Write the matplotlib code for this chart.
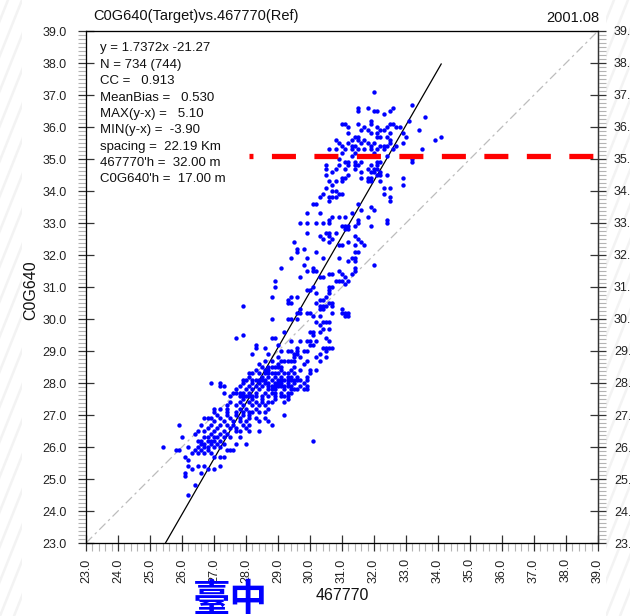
import matplotlib
matplotlib.use('Agg')
import matplotlib.pyplot as plt
from matplotlib.patches import Rectangle
from matplotlib.ticker import MultipleLocator, FormatStrFormatter

plt.rcParams['font.family'] = ['Liberation Sans', 'DejaVu Sans']

# regression and reference level
fit_slope = 1.7372
fit_icpt = -21.27
level_y = 35.1
level_x0 = 28.1

stats_lines = [
    'y = 1.7372x -21.27',
    'N = 734 (744)',
    'CC =   0.913',
    'MeanBias =   0.530',
    'MAX(y-x) =   5.10',
    'MIN(y-x) =  -3.90',
    'spacing =  22.19 Km',
    "467770'h =  32.00 m",
    "C0G640'h =  17.00 m",
]

# pairs of (C0G640 value, [467770 values]) grouped by value band
upper_rows = [
    (37.1, [32.0]),
    (36.7, [33.2]),
    (36.6, [31.5, 31.8, 32.6]),
    (36.5, [31.5, 32.0, 32.1, 32.5]),
    (36.4, [32.3]),
    (36.3, [33.6]),
    (36.2, [31.9, 33.1]),
    (36.1, [31.0, 31.1, 31.5, 31.9, 32.5, 32.6]),
    (36.0, [31.2, 31.7, 32.1, 32.4, 32.7, 32.8]),
    (35.9, [31.6, 31.8, 32.2, 32.3, 33.4]),
    (35.8, [31.2, 31.9, 32.1, 32.5, 32.9]),
    (35.7, [31.4, 31.5, 32.1, 32.2, 32.4, 33.0, 34.1]),
    (35.6, [30.8, 31.3, 31.5, 31.7, 32.5, 33.9]),
    (35.5, [30.9, 31.2, 31.6, 31.8, 32.0, 32.5, 32.9]),
    (35.4, [31.0, 31.3, 31.4, 31.9, 32.2, 32.3, 32.4, 32.7]),
    (35.3, [30.6, 30.8, 31.1, 31.3, 31.5, 31.7, 31.9, 32.1, 32.3, 32.6, 33.5]),
    (35.2, [31.0, 31.4, 32.0]),
    (35.1, [30.6, 31.3, 31.8, 32.4]),
    (35.0, [30.9, 33.2]),
    (34.9, [31.1, 31.2, 31.4, 31.6, 32.1, 32.2, 33.2]),
    (34.8, [30.5, 30.9, 31.2, 31.4, 31.5, 31.9, 32.1]),
    (34.7, [30.5, 30.8, 31.1, 31.4, 31.8, 32.0, 32.1]),
    (34.6, [30.7, 31.6, 31.9, 32.0, 32.2]),
    (34.5, [30.5, 31.2, 32.1, 32.2, 32.4]),
    (34.4, [31.0, 31.1, 31.6, 31.8, 31.9, 32.9]),
    (34.3, [30.6, 30.8, 31.0, 31.8, 31.9, 32.2]),
    (34.2, [30.7, 32.9]),
    (34.1, [30.5, 32.3, 32.5]),
    (34.0, [30.7, 30.8]),
    (33.9, [30.4, 30.9, 31.0, 32.3]),
    (33.8, [30.3, 30.6, 30.7, 30.8, 32.5]),
]

middle_rows = [
    (33.7, [30.6, 32.5]),
    (33.6, [30.1, 30.2, 31.5]),
    (33.5, [31.9]),
    (33.4, [31.6, 32.0]),
    (33.3, [29.9, 30.3, 31.3]),
    (33.2, [30.7, 30.9, 31.1, 31.8]),
    (33.1, [30.6, 31.5, 32.4]),
    (33.0, [29.7, 29.9, 30.2, 30.4, 30.6, 31.5, 32.4]),
    (32.9, [31.0, 31.1, 31.2, 31.4, 31.9]),
    (32.8, [31.1, 31.2]),
    (32.7, [29.9, 30.5, 30.6, 30.8]),
    (32.6, [30.3, 30.6, 31.4]),
    (32.5, [30.4, 30.7, 31.5]),
    (32.4, [29.5, 30.6, 31.2, 31.6]),
    (32.3, [30.9, 31.0, 31.4, 31.7]),
    (32.2, [29.6, 29.8]),
    (32.1, [29.6, 30.2, 31.4, 31.5]),
    (31.9, [29.4, 29.9, 30.4, 30.9, 31.3, 31.4]),
    (31.8, [31.2, 31.4]),
    (31.7, [29.8, 32.0]),
    (31.6, [29.1, 30.1, 31.4]),
    (31.5, [29.9, 30.1, 30.2, 30.9, 31.4]),
    (31.4, [30.6, 30.7, 31.0, 31.3]),
    (31.3, [29.7, 30.3, 30.4, 31.1]),
    (31.2, [28.9, 30.8, 30.9, 31.0, 31.2]),
    (31.1, [31.1]),
    (31.0, [28.9, 30.1, 30.6, 30.7]),
    (30.9, [29.9, 30.0, 30.6]),
    (30.8, [30.2, 30.6]),
    (30.7, [28.8, 29.4, 29.6, 30.5]),
    (30.6, [29.3, 30.3, 30.4]),
    (30.5, [29.3, 29.4, 30.2, 30.6, 30.7]),
    (30.4, [27.9, 30.3, 30.4, 30.5, 30.7]),
    (30.3, [29.7, 30.3, 30.4, 31.0]),
    (30.2, [29.6, 29.7, 29.9, 30.0, 30.7, 31.0, 31.1, 31.2]),
    (30.1, [30.1, 30.3, 31.1, 31.2]),
    (30.0, [28.8, 29.3, 29.4, 29.6]),
    (29.9, [30.2, 30.4, 30.5, 30.6]),
    (29.8, [30.3]),
    (29.7, [30.4, 30.6]),
    (29.6, [29.2, 30.0, 30.1, 30.3]),
    (29.5, [27.9, 30.1]),
    (29.4, [27.7, 28.8, 28.9, 30.5]),
    (29.3, [29.4, 29.7, 29.9, 30.0, 30.2, 30.6]),
    (29.2, [28.3, 29.0, 30.0, 30.1]),
    (29.1, [28.3, 28.6, 29.6, 30.4, 30.5, 30.6, 30.7]),
    (29.0, [29.1, 29.3, 29.4, 29.6, 29.8, 29.9, 30.5]),
]

core_rows = [
    (28.9, [28.2, 28.7, 29.5, 29.6, 30.3]),
    (28.8, [29.0, 29.5, 29.7, 30.2, 30.5]),
    (28.7, [28.6, 28.8, 29.1, 29.2, 29.3, 29.4, 29.5, 29.9, 30.3]),
    (28.6, [28.4, 29.0, 29.8]),
    (28.5, [28.5, 28.7, 28.8, 28.9, 29.0, 29.1, 29.5]),
    (28.4, [28.3, 28.6, 28.7, 29.1, 29.4, 29.7, 30.0, 30.2]),
    (28.3, [28.1, 28.2, 28.4, 28.6, 28.7, 28.8, 28.9, 29.0, 29.2, 29.3, 29.5, 30.0]),
    (28.2, [28.1, 28.5, 28.7, 28.9, 29.1, 29.3, 29.4, 29.6, 29.9]),
    (28.1, [27.9, 28.0, 28.2, 28.3, 28.4, 28.5, 28.6, 28.8, 29.0, 29.1, 29.2,
            29.3, 29.4, 29.5, 29.6, 29.7, 29.9]),
    (28.0, [26.9, 27.2, 27.9, 28.2, 28.4, 28.6, 28.7, 28.9, 29.0, 29.1, 29.3,
            29.5, 29.8]),
    (27.9, [27.2, 27.3, 27.8, 28.1, 28.3, 28.5, 28.7, 28.8, 28.9, 29.0, 29.1,
            29.2, 29.3, 29.4, 29.7, 29.9]),
    (27.8, [27.7, 28.0, 28.2, 28.4, 28.7, 28.8, 28.9, 29.2, 29.4, 29.5, 29.6,
            29.8, 29.9]),
    (27.7, [27.3, 27.6, 27.7, 27.8, 27.9, 28.1, 28.3, 28.6, 28.8, 28.9, 29.1,
            29.3, 29.4]),
    (27.6, [27.5, 27.8, 27.9, 28.0, 28.1, 28.2, 28.3, 28.5, 28.7, 28.9, 29.1,
            29.2, 29.3]),
    (27.5, [27.9, 28.2, 28.5, 28.9, 29.3]),
    (27.4, [27.5, 27.8, 28.1, 28.3, 28.5, 28.7, 28.8, 29.2]),
    (27.3, [27.4, 27.7, 27.9, 28.2, 28.4, 28.6]),
    (27.2, [27.0, 27.2, 27.4, 27.8, 28.0, 28.3, 28.7]),
    (27.1, [27.0, 27.4, 27.7, 27.9, 28.1, 28.2, 28.4, 28.6]),
    (27.0, [27.1, 27.4, 27.7, 27.9, 28.1, 29.2]),
]

lower_rows = [
    (26.9, [26.7, 26.8, 26.9, 27.2, 27.5, 27.8, 28.1, 28.3, 28.6]),
    (26.8, [27.0, 27.3, 27.6, 27.8, 28.0, 28.4, 28.7]),
    (26.7, [25.9, 26.6, 26.9, 27.2, 27.4, 27.6, 27.9, 28.1, 28.8]),
    (26.6, [26.8, 27.1, 27.5, 27.7, 28.0]),
    (26.5, [26.5, 26.7, 27.0, 27.3, 27.7, 27.8, 28.1, 28.4]),
    (26.4, [26.4, 26.9, 27.2, 27.4]),
    (26.3, [26.0, 26.7, 26.8, 27.0, 27.1, 27.3, 27.5, 27.8]),
    (26.2, [26.5, 26.6, 26.8, 26.9, 27.0, 27.2, 30.1]),
    (26.1, [26.6, 26.7, 26.9, 27.1, 27.3, 27.7, 28.0]),
    (26.0, [25.4, 26.2, 26.5, 26.7, 26.8, 27.0, 27.2]),
    (25.9, [25.8, 25.9, 26.4, 26.6, 26.8, 27.4, 27.5, 27.6]),
    (25.8, [26.3, 26.5, 26.7, 26.9]),
    (25.7, [26.1, 27.0, 27.2, 27.3]),
    (25.6, [26.2]),
    (25.4, [26.2, 26.5, 26.7, 27.2]),
    (25.3, [26.3, 26.8, 27.0]),
    (25.2, [26.1, 26.6]),
    (25.1, [26.1]),
    (24.8, [26.4]),
    (24.5, [26.2]),
]

obs = []   # 467770 (reference)
sim = []   # C0G640 (target)
for yv, xs in upper_rows + middle_rows + core_rows + lower_rows:
    for xv in xs:
        obs.append(xv)
        sim.append(yv)

fig = plt.figure(figsize=(6.3, 6.16), dpi=100)

# faint diagonal page stripes along the left and right edges
bg = fig.add_axes([0, 0, 1, 1], zorder=-5)
bg.set_xlim(0, 630)
bg.set_ylim(616, 0)
bg.axis('off')
for x0, x1 in [(0, 22), (606, 630)]:
    clip = Rectangle((x0, 0), x1 - x0, 616, transform=bg.transData)
    for k in range(-60, 60):
        start = x0 + k * 14
        ln, = bg.plot([start, start + 246], [616, 0], color='#f3f3f3', lw=1.8)
        ln.set_clip_path(clip)

ax = fig.add_axes([86 / 630, 73 / 616, 512 / 630, 512 / 616])
ax.set_xlim(23, 39)
ax.set_ylim(23, 39)

# 1:1 line
ax.plot([23, 39], [23, 39], color='#bdbdbd', lw=0.9, ls=(0, (7, 3, 2, 3)), zorder=1)

# regression line from the bottom edge up to the largest reference value
x_lo = (23 - fit_icpt) / fit_slope
x_hi = max(obs)
ax.plot([x_lo, x_hi], [fit_slope * x_lo + fit_icpt, fit_slope * x_hi + fit_icpt],
        color='black', lw=0.9, zorder=2)

ax.scatter(obs, sim, s=10, c='#0000ff', linewidths=0, zorder=3)

ax.plot([level_x0, 39], [level_y, level_y], color='#ff0000', lw=3.8,
        ls=(3.8, (4.55, 3.5)), dash_capstyle='butt', zorder=4)

for side in ['left', 'right', 'bottom', 'top']:
    ax.spines[side].set_color('#333333')
    ax.spines[side].set_linewidth(0.9)

# right-hand axis copies the y scale
ax_r = ax.twinx()
ax_r.set_ylim(23, 39)
ax_r.spines['right'].set_color('#333333')
ax_r.spines['right'].set_linewidth(0.9)

ax.xaxis.set_major_locator(MultipleLocator(1))
ax.xaxis.set_minor_locator(MultipleLocator(0.2))
ax.xaxis.set_major_formatter(FormatStrFormatter('%.1f'))
for a in [ax, ax_r]:
    a.yaxis.set_major_locator(MultipleLocator(1))
    a.yaxis.set_minor_locator(MultipleLocator(0.125))
    a.yaxis.set_major_formatter(FormatStrFormatter('%.1f'))
    a.tick_params(which='major', direction='inout', length=12, width=0.9,
                  color='#333333', labelsize=9, labelcolor='#222222')
    a.tick_params(which='minor', direction='out', length=6, width=0.8, color='#b4b4b4')

ax.tick_params(which='both', top=False, right=False)
ax.tick_params(axis='x', which='major', labelrotation=90, pad=5)
ax.tick_params(axis='y', which='major', pad=8)
ax_r.tick_params(axis='y', which='major', pad=5.5)

for i, line in enumerate(stats_lines):
    ax.text(0.027, 0.966 - i * 0.032, line, transform=ax.transAxes,
            fontsize=9.5, va='center', ha='left', color='#111111')

fig.text(93 / 630, 1 - 16 / 616, 'C0G640(Target)vs.467770(Ref)', fontsize=10.5,
         ha='left', va='center', color='#111111')
fig.text(599 / 630, 1 - 18 / 616, '2001.08', fontsize=10.5,
         ha='right', va='center', color='#111111')
fig.text(31 / 630, 1 - 290 / 616, 'C0G640', rotation=90, fontsize=11.5,
         ha='center', va='center', color='#111111')
fig.text(342 / 630, 1 - 596 / 616, '467770', fontsize=11.5,
         ha='center', va='center', color='#111111')
fig.text(193 / 630, 1 - 600 / 616, '臺中', fontsize=27, fontweight='bold',
         color='#0000ff', family=['Noto Sans CJK TC', 'DejaVu Sans'],
         ha='left', va='center')

fig.savefig('out.png', dpi=100)
